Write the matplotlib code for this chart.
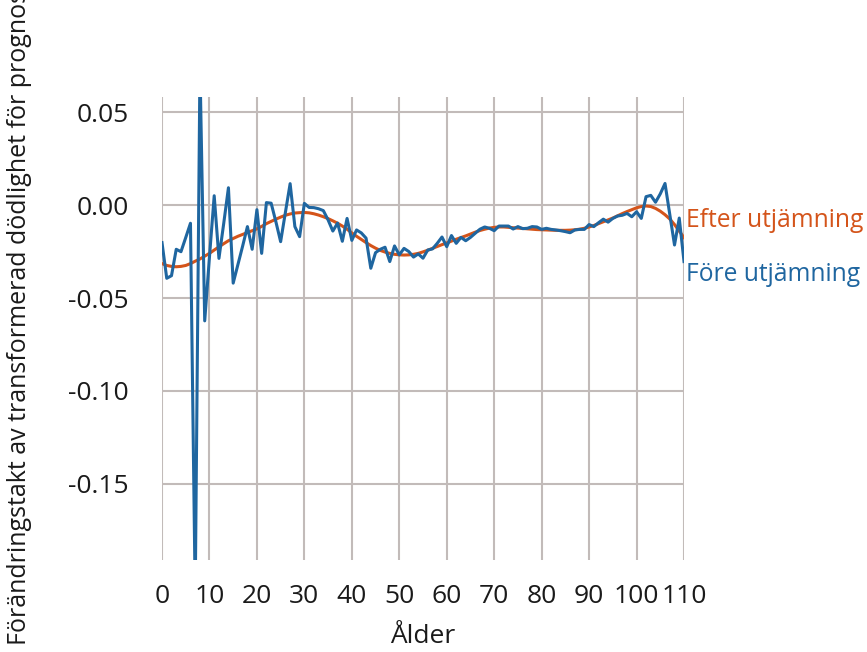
import matplotlib
matplotlib.use("Agg")
import matplotlib.pyplot as plt

ages = list(range(0, 111))

fore = [
    -0.0202, -0.0394, -0.0380, -0.0238, -0.0251, -0.0175, -0.0098, -0.2100, 0.0750, -0.0623,
    -0.0280, 0.0050, -0.0287, -0.0100, 0.0093, -0.0420, -0.0320, -0.0220, -0.0116, -0.0238,
    -0.0025, -0.0260, 0.0013, 0.0010, -0.0090, -0.0197, -0.0040, 0.0115, -0.0116, -0.0170,
    0.0009, -0.0013, -0.0014, -0.0020, -0.0030, -0.0080, -0.0140, -0.0097, -0.0195, -0.0072,
    -0.0190, -0.0134, -0.0150, -0.0178, -0.0340, -0.0256, -0.0238, -0.0227, -0.0304, -0.0220,
    -0.0268, -0.0233, -0.0250, -0.0280, -0.0263, -0.0286, -0.0242, -0.0236, -0.0206, -0.0172,
    -0.0224, -0.0164, -0.0206, -0.0174, -0.0192, -0.0174, -0.0152, -0.0130, -0.0118, -0.0125,
    -0.0138, -0.0113, -0.0113, -0.0113, -0.0129, -0.0116, -0.0127, -0.0125, -0.0116, -0.0118,
    -0.0131, -0.0125, -0.0131, -0.0134, -0.0138, -0.0143, -0.0149, -0.0134, -0.0131, -0.0131,
    -0.0105, -0.0116, -0.0095, -0.0076, -0.0092, -0.0072, -0.0059, -0.0055, -0.0045, -0.0063,
    -0.0036, -0.0072, 0.0045, 0.0052, 0.0015, 0.0060, 0.0116, -0.0050, -0.0215, -0.0070,
    -0.0304,
]

efter = [
    -0.0315, -0.0325, -0.0330, -0.0332, -0.0330, -0.0325, -0.0315, -0.0302, -0.0290, -0.0275,
    -0.0260, -0.0242, -0.0225, -0.0208, -0.0192, -0.0180, -0.0168, -0.0158, -0.0148, -0.0138,
    -0.0128, -0.0115, -0.0100, -0.0088, -0.0076, -0.0065, -0.0055, -0.0048, -0.0043, -0.0041,
    -0.0040, -0.0042, -0.0047, -0.0054, -0.0063, -0.0073, -0.0085, -0.0098, -0.0113, -0.0130,
    -0.0150, -0.0168, -0.0185, -0.0202, -0.0218, -0.0232, -0.0244, -0.0253, -0.0260, -0.0265,
    -0.0268, -0.0269, -0.0268, -0.0265, -0.0260, -0.0252, -0.0243, -0.0233, -0.0223, -0.0213,
    -0.0204, -0.0194, -0.0184, -0.0175, -0.0166, -0.0156, -0.0146, -0.0137, -0.0130, -0.0124,
    -0.0120, -0.0118, -0.0118, -0.0120, -0.0122, -0.0124, -0.0126, -0.0128, -0.0130, -0.0132,
    -0.0133, -0.0134, -0.0135, -0.0136, -0.0136, -0.0136, -0.0135, -0.0133, -0.0130, -0.0125,
    -0.0118, -0.0110, -0.0100, -0.0090, -0.0080, -0.0070, -0.0058, -0.0046, -0.0035, -0.0025,
    -0.0015, -0.0008, -0.0005, -0.0008, -0.0018, -0.0033, -0.0052, -0.0075, -0.0105, -0.0140,
    -0.0175,
]

xticks = [0, 10, 20, 30, 40, 50, 60, 70, 80, 90, 100, 110]
yticks = [-0.15, -0.10, -0.05, 0.00, 0.05]
ytick_labels = ["-0.15", "-0.10", "-0.05", "0.00", "0.05"]

BLUE = "#1f66a0"
ORANGE = "#d4541a"
GRID = "#c2bbb9"
TEXT = "#1a1a1a"

plt.rcParams["font.family"] = ["Open Sans", "DejaVu Sans"]

fig = plt.figure(figsize=(8.67, 6.52), dpi=100)
ax = fig.add_axes([162 / 867, 1 - 560 / 652, (684 - 162) / 867, (560 - 97) / 652])

ax.plot(ages, efter, color=ORANGE, lw=2.2, zorder=3)
ax.plot(ages, fore, color=BLUE, lw=2.2, zorder=4)

ax.set_xlim(0, 110)
ax.set_ylim(-0.1909, 0.0581)
ax.set_xticks(xticks)
ax.set_xticklabels([str(t) for t in xticks])
ax.set_yticks(yticks)
ax.set_yticklabels(ytick_labels)
ax.grid(True, color=GRID, lw=1.5)
ax.set_axisbelow(True)
for s in ax.spines.values():
    s.set_visible(False)
ax.tick_params(axis="both", length=0, labelsize=19, colors=TEXT)
ax.tick_params(axis="x", pad=17)
ax.tick_params(axis="y", pad=24)

ax.set_xlabel("Ålder", fontsize=19, color=TEXT, labelpad=11)
fig.text(20 / 867, 7 / 652, "Förändringstakt av transformerad dödlighet för prognos",
         rotation=90, ha="center", va="bottom", fontsize=18, color=TEXT)

ax.text(110.4, -(220 - 205) / 1860, "Efter utjämning", color=ORANGE, fontsize=17.7,
        ha="left", va="center", clip_on=False)
ax.text(110.4, -(274 - 205) / 1860, "Före utjämning", color=BLUE, fontsize=17.7,
        ha="left", va="center", clip_on=False)

fig.savefig("out.png", dpi=100)
